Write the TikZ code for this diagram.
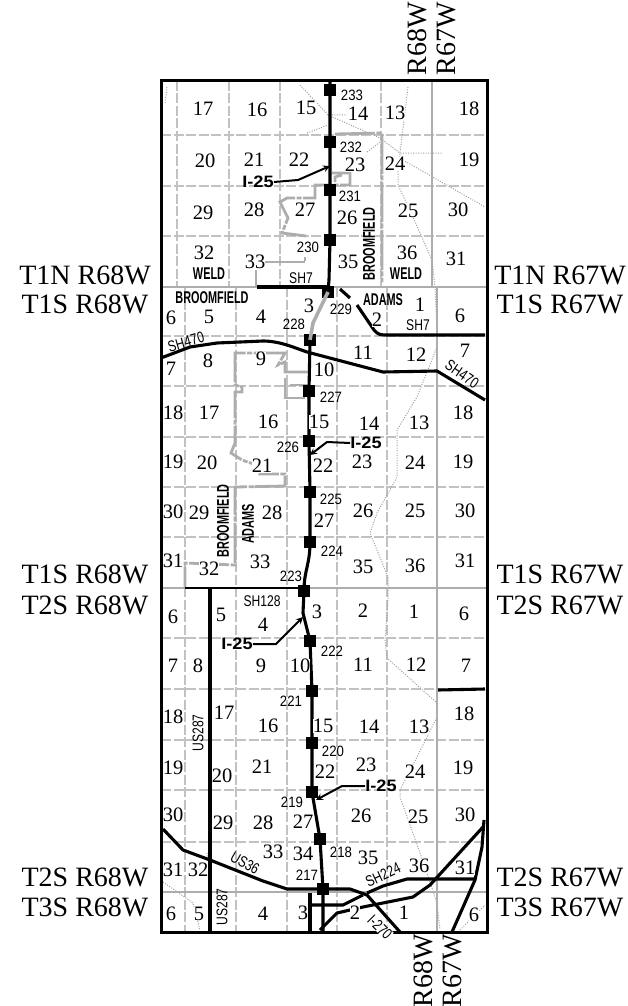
\documentclass[tikz,border=0pt]{standalone}
\usepackage{fontspec}
\setmainfont{Liberation Serif}
\setsansfont{Liberation Sans}
\usetikzlibrary{arrows}
\definecolor{mapgray}{gray}{0.68}
\tikzstyle{secnum} = [font=\fontsize{20.5}{20}\selectfont, fill=white, inner sep=0pt]
\tikzstyle{township} = [font=\fontsize{28}{28}\selectfont, inner sep=0pt]
\tikzstyle{exitnum} = [font=\sffamily\fontsize{15}{15}\selectfont, xscale=0.88, transform shape, inner sep=0pt]
\tikzstyle{roadname} = [font=\sffamily\fontsize{15.5}{15}\selectfont, xscale=0.78, transform shape, inner sep=0pt]
\tikzstyle{countyname} = [font=\sffamily\bfseries\fontsize{17}{17}\selectfont, xscale=0.64, transform shape, inner sep=0pt]
\tikzstyle{routename} = [font=\sffamily\bfseries\fontsize{16.5}{16}\selectfont, xscale=1.1, transform shape, inner sep=0pt]
\tikzstyle{marker} = [rectangle, fill=black, minimum size=11.5pt, inner sep=0pt]
\tikzstyle{section} = [line width=1.2pt, draw=black!24, dash pattern=on 10pt off 2.5pt]
\tikzstyle{townline} = [line width=2.4pt, draw=mapgray]
\tikzstyle{limit} = [line width=2.8pt, draw=mapgray, dash pattern=on 40pt off 1.5pt on 5pt off 1.5pt]
\tikzstyle{rail} = [line width=1pt, draw=black!38, dash pattern=on 1pt off 1.5pt]
\tikzstyle{road} = [line width=3.1pt, draw=black, line join=round]
\tikzstyle{leader} = [line width=2pt, ->, >=stealth, draw=black]
\begin{document}
\begin{tikzpicture}[x=1pt,y=-1pt]
\useasboundingbox (0,0) rectangle (628,1006);

% section lines
\draw [section] (161,135) -- (487,135);
\draw [section] (161,186) -- (487,186);
\draw [section] (161,236) -- (487,236);
\draw [section] (161,336) -- (487,336);
\draw [section] (161,386) -- (487,386);
\draw [section] (161,437) -- (487,437);
\draw [section] (161,487) -- (487,487);
\draw [section] (161,537) -- (487,537);
\draw [section] (161,638) -- (487,638);
\draw [section] (161,689) -- (487,689);
\draw [section] (161,740) -- (487,740);
\draw [section] (161,790) -- (487,790);
\draw [section] (161,842) -- (487,842);
\draw [section] (177,81) -- (177,287);
\draw [section] (229,81) -- (229,287);
\draw [section] (280,81) -- (280,287);
\draw [section] (381,81) -- (381,287);
\draw [section] (185,287) -- (185,932);
\draw [section] (236,287) -- (236,932);
\draw [section] (287,287) -- (287,932);
\draw [section] (337,287) -- (337,932);
\draw [section] (387,287) -- (387,932);

% railroads
\draw [rail] (300,85) -- (328,115) -- (347,115);
\draw [rail] (307,133) -- (328,125);
\draw [rail] (328,115) -- (380,138) -- (400,153) -- (443,153);
\draw [rail] (367,152) -- (380,142);
\draw [rail] (408,87) -- (400,153) -- (398,173) -- (398,185) -- (413,217) -- (432,260) -- (435,287) -- (437,330);
\draw [rail] (403,160) -- (485,207);
\draw [rail] (167,87) -- (165,103);
\draw [rail] (437,347) -- (417,397) -- (397,430) -- (397,477) -- (377,513) -- (370,533) -- (388,577) -- (388,600) -- (385,640) -- (387,658) -- (437,703) -- (437,717) -- (417,757) -- (400,790) -- (400,797) -- (420,853) -- (437,903) -- (440,930);
\draw [rail] (163,882) -- (193,903) -- (200,930);
\draw [rail] (207,853) -- (210,868);
\draw [rail] (460,930) -- (485,905);

% town boundaries
\draw [townline] (432,81) -- (432,287);
\draw [townline] (437,287) -- (437,932);
\draw [townline] (161,287) -- (487,287);
\draw [townline] (161,588) -- (487,588);
\draw [townline] (161,892) -- (487,892);
\draw [limit] (335,134) -- (382,133) -- (382,282);
\draw [limit] (330,185) -- (315,185) -- (315,198) -- (287,198) -- (280,202) -- (288,218) -- (282,233) -- (306,236);
\draw [limit] (332,173) -- (350,173) -- (350,185) -- (335,185) -- (335,177) -- (342,175);
\draw [limit] (265,262) -- (305,262) -- (305,257);
\draw [limit] (256,270) -- (256,287);
\draw [limit] (310,372) -- (285,372) -- (285,362) -- (278,365) -- (285,353) -- (235,353) -- (235,385) -- (242,387) -- (242,392) -- (235,392) -- (235,443) -- (231,453) -- (242,460) -- (262,467) -- (260,474) -- (285,474) -- (285,486) -- (235,487) -- (235,565) -- (185,563) -- (185,588);
\draw [limit] (285,378) -- (285,398) -- (309,398);
\draw [limit] (290,385) -- (309,385);

% markers
\node (m233) [marker] at (330,90) {};
\node (m232) [marker] at (330,142) {};
\node (m231) [marker] at (330,190) {};
\node (m230) [marker] at (330,240) {};
\node (m229) [marker] at (328,292) {};
\node (m228) [marker] at (310,340) {};
\node (m227) [marker] at (309,391) {};
\node (m226) [marker] at (309,441) {};
\node (m225) [marker] at (310,492) {};
\node (m224) [marker] at (310,542) {};
\node (m223) [marker] at (304,591) {};
\node (m222) [marker] at (310,641) {};
\node (m221) [marker] at (312,691) {};
\node (m220) [marker] at (312,743) {};
\node (m219) [marker] at (312,792) {};
\node (m218) [marker] at (320,839) {};
\node (m217) [marker] at (323,889) {};

% I-25 and other roads
\coordinate (top25) at (330,81);
\coordinate (end25) at (323,932);
\draw [road] (top25) -- (m233.center) -- (m232.center) -- (m231.center) -- (m230.center) -- (329,280) -- (m229.center);
\draw [line width=3.6pt, draw=mapgray] (m229.center) -- (313,323) -- (m228.center);
\draw [road] (m228.center) -- (m227.center) -- (m226.center) -- (m225.center) -- (m224.center) .. controls (310,565) and (304,570) .. (m223.center) -- (303,613) -- (m222.center) -- (m221.center) -- (m220.center) -- (m219.center) -- (m218.center) -- (m217.center) -- (end25);
\draw [road] (161,358) -- (190,347) -- (217,343) -- (263,341) .. controls (280,341) and (295,348) .. (307,352) -- (383,372) -- (437,371) -- (485,400);
\draw [road] (257,287) -- (327,287);
\draw [road] (340,289) -- (350,298);
\draw [road] (357,305) -- (372,327) .. controls (375,332) and (378,335) .. (384,335) -- (485,335);
\draw [line width=1.6pt, draw=black] (185,588) -- (304,588);
\draw [road] (210,588) -- (210,932);
\draw [road] (438,690) -- (485,689);
\draw [road] (163,829) -- (183,850) -- (210,860) -- (263,881) -- (287,889) -- (350,889) -- (367,895) -- (400,932);
\draw [road] (367,893) -- (383,886) -- (407,879) -- (475,879);
\draw [road] (310,893) -- (310,932);
\draw [road] (310,905) -- (343,905) -- (363,895);
\draw [road] (320,930) -- (337,913) -- (363,907) -- (413,897) -- (430,885) -- (483,827);
\draw [road] (452,932) -- (475,880) -- (482,847) -- (484,820);

% frame
\draw [line width=3pt, draw=black] (161,81) rectangle (487,932);

% sections T1N
\node (a17) [secnum] at (203,109) {17};
\node (a16) [secnum] at (257,110) {16};
\node (a15) [secnum] at (306,108) {15};
\node (a14) [secnum] at (358,114) {14};
\node (a13) [secnum] at (395,113) {13};
\node (a20) [secnum] at (205,161) {20};
\node (a21) [secnum] at (254,160) {21};
\node (a22) [secnum] at (299,160) {22};
\node (a23) [secnum] at (355,165) {23};
\node (a24) [secnum] at (395,164) {24};
\node (a29) [secnum] at (203,213) {29};
\node (a28) [secnum] at (254,210) {28};
\node (a27) [secnum] at (305,210) {27};
\node (a26) [secnum] at (347,218) {26};
\node (a25) [secnum] at (408,211) {25};
\node (a32) [secnum] at (204,253) {32};
\node (a33) [secnum] at (255,262) {33};
\node (a35) [secnum] at (348,262) {35};
\node (a36) [secnum] at (407,253) {36};
\node (ae18) [secnum] at (469,109) {18};
\node (ae19) [secnum] at (469,160) {19};
\node (ae30) [secnum] at (458,210) {30};
\node (ae31) [secnum] at (456,259) {31};

% sections T1S
\node (b6) [secnum] at (171,318) {6};
\node (b5) [secnum] at (209,317) {5};
\node (b4) [secnum] at (261,317) {4};
\node (b3) [secnum] at (309,306) {3};
\node (b2) [secnum] at (377,320) {2};
\node (b1) [secnum] at (420,305) {1};
\node (b7) [secnum] at (171,369) {7};
\node (b8) [secnum] at (208,361) {8};
\node (b9) [secnum] at (261,359) {9};
\node (b10) [secnum] at (324,370) {10};
\node (b11) [secnum] at (363,353) {11};
\node (b12) [secnum] at (416,355) {12};
\node (b18) [secnum] at (173,413) {18};
\node (b17) [secnum] at (209,413) {17};
\node (b16) [secnum] at (268,422) {16};
\node (b15) [secnum] at (319,422) {15};
\node (b14) [secnum] at (369,424) {14};
\node (b13) [secnum] at (419,423) {13};
\node (b19) [secnum] at (173,462) {19};
\node (b20) [secnum] at (207,463) {20};
\node (b21) [secnum] at (262,466) {21};
\node (b22) [secnum] at (323,466) {22};
\node (b23) [secnum] at (362,462) {23};
\node (b24) [secnum] at (415,463) {24};
\node (b30) [secnum] at (173,512) {30};
\node (b29) [secnum] at (199,513) {29};
\node (b28) [secnum] at (272,513) {28};
\node (b27) [secnum] at (324,521) {27};
\node (b26) [secnum] at (363,511) {26};
\node (b25) [secnum] at (415,511) {25};
\node (b31) [secnum] at (173,561) {31};
\node (b32) [secnum] at (209,569) {32};
\node (b33) [secnum] at (260,562) {33};
\node (b35) [secnum] at (363,567) {35};
\node (b36) [secnum] at (415,566) {36};
\node (be6) [secnum] at (460,316) {6};
\node (be7) [secnum] at (465,351) {7};
\node (be18) [secnum] at (463,413) {18};
\node (be19) [secnum] at (463,462) {19};
\node (be30) [secnum] at (465,511) {30};
\node (be31) [secnum] at (465,561) {31};

% sections T2S
\node (c6) [secnum] at (173,617) {6};
\node (c5) [secnum] at (221,615) {5};
\node (c4) [secnum] at (263,625) {4};
\node (c3) [secnum] at (317,612) {3};
\node (c2) [secnum] at (363,611) {2};
\node (c1) [secnum] at (414,612) {1};
\node (c7) [secnum] at (173,666) {7};
\node (c8) [secnum] at (198,666) {8};
\node (c9) [secnum] at (261,666) {9};
\node (c10) [secnum] at (300,666) {10};
\node (c11) [secnum] at (363,665) {11};
\node (c12) [secnum] at (416,665) {12};
\node (c18) [secnum] at (173,717) {18};
\node (c17) [secnum] at (224,713) {17};
\node (c16) [secnum] at (268,726) {16};
\node (c15) [secnum] at (323,726) {15};
\node (c14) [secnum] at (369,727) {14};
\node (c13) [secnum] at (419,727) {13};
\node (c19) [secnum] at (173,768) {19};
\node (c20) [secnum] at (222,776) {20};
\node (c21) [secnum] at (262,767) {21};
\node (c22) [secnum] at (325,772) {22};
\node (c23) [secnum] at (366,765) {23};
\node (c24) [secnum] at (415,772) {24};
\node (c30) [secnum] at (173,815) {30};
\node (c29) [secnum] at (223,823) {29};
\node (c28) [secnum] at (263,823) {28};
\node (c27) [secnum] at (303,822) {27};
\node (c26) [secnum] at (361,816) {26};
\node (c25) [secnum] at (418,817) {25};
\node (c31) [secnum] at (173,870) {31};
\node (c32) [secnum] at (198,870) {32};
\node (c33) [secnum] at (273,852) {33};
\node (c34) [secnum] at (303,854) {34};
\node (c35) [secnum] at (368,858) {35};
\node (c36) [secnum] at (419,866) {36};
\node (ce6) [secnum] at (464,614) {6};
\node (ce7) [secnum] at (466,666) {7};
\node (ce18) [secnum] at (464,714) {18};
\node (ce19) [secnum] at (463,768) {19};
\node (ce30) [secnum] at (465,815) {30};
\node (ce31) [secnum] at (465,868) {31};

% sections T3S
\node (d6) [secnum] at (171,914) {6};
\node (d5) [secnum] at (199,914) {5};
\node (d4) [secnum] at (263,914) {4};
\node (d3) [secnum] at (303,913) {3};
\node (d2) [secnum] at (355,913) {2};
\node (d1) [secnum] at (404,913) {1};
\node (de6) [secnum] at (474,915) {6};

% exit numbers
\node (x233) [exitnum] at (352,95) {233};
\node (x232) [exitnum] at (351,147) {232};
\node (x231) [exitnum] at (350,196) {231};
\node (x230) [exitnum] at (308,247) {230};
\node (x229) [exitnum] at (341,309) {229};
\node (x228) [exitnum] at (294,324) {228};
\node (x227) [exitnum] at (331,397) {227};
\node (x226) [exitnum] at (288,447) {226};
\node (x225) [exitnum] at (331,499) {225};
\node (x224) [exitnum] at (332,551) {224};
\node (x223) [exitnum] at (291,576) {223};
\node (x222) [exitnum] at (332,651) {222};
\node (x221) [exitnum] at (291,701) {221};
\node (x220) [exitnum] at (333,751) {220};
\node (x219) [exitnum] at (292,802) {219};
\node (x218) [exitnum] at (341,852) {218};
\node (x217) [exitnum] at (307,875) {217};

% road and county names
\node (sh7a) [roadname] at (301,278) {SH7};
\node (sh7b) [roadname] at (418,325) {SH7};
\node (sh470a) [rotate=16, roadname] at (186,342) {SH470};
\node (sh470b) [rotate=-35, roadname] at (462,374) {SH470};
\node (sh128) [roadname] at (262,601) {SH128};
\node (us287a) [rotate=90, roadname] at (198,733) {US287};
\node (us287b) [rotate=90, roadname] at (222,907) {US287};
\node (us36) [rotate=-30, roadname] at (245,863) {US36};
\node (sh224) [rotate=25, roadname] at (383,875) {SH224};
\node (i270) [rotate=-45, roadname, fill=white] at (380,927) {I-270};
\node (welda) [countyname] at (209,274) {WELD};
\node (weldb) [countyname] at (406,274) {WELD};
\node (broomfielda) [countyname] at (212,298) {BROOMFIELD};
\node (broomfieldb) [rotate=90, countyname] at (369,244) {BROOMFIELD};
\node (broomfieldc) [rotate=90, countyname] at (223,521) {BROOMFIELD};
\node (adamsa) [countyname] at (383,300) {ADAMS};
\node (adamsb) [rotate=90, countyname] at (248,524) {ADAMS};

% I-25 leaders
\node (i25a) [routename] at (258,182) {I-25};
\coordinate (benda) at (298,180);
\coordinate (tipa) at (330,166);
\draw [leader] (i25a.east) -- (benda) -- (tipa);
\node (i25b) [routename] at (366,443) {I-25};
\coordinate (bendb) at (327,442);
\coordinate (tipb) at (310,455);
\draw [leader] (i25b.west) -- (bendb) -- (tipb);
\node (i25c) [routename] at (237,644) {I-25};
\coordinate (bendc) at (276,644);
\coordinate (tipc) at (303,617);
\draw [leader] (i25c.east) -- (bendc) -- (tipc);
\node (i25d) [routename] at (381,786) {I-25};
\coordinate (bendd) at (342,786);
\coordinate (tipd) at (316,800);
\draw [leader] (i25d.west) -- (bendd) -- (tipd);

% township labels
\node (n1w) [township] at (85,275) {T1N R68W};
\node (s1w) [township] at (85,304) {T1S R68W};
\node (n1e) [township] at (560,275) {T1N R67W};
\node (s1e) [township] at (560,304) {T1S R67W};
\node (s1wb) [township] at (85,574) {T1S R68W};
\node (s2w) [township] at (85,605) {T2S R68W};
\node (s1eb) [township] at (560,574) {T1S R67W};
\node (s2e) [township] at (560,605) {T2S R67W};
\node (s2wb) [township] at (85,877) {T2S R68W};
\node (s3w) [township] at (85,907) {T3S R68W};
\node (s2eb) [township] at (560,877) {T2S R67W};
\node (s3e) [township] at (560,907) {T3S R67W};
\node (r68t) [township, rotate=90] at (417,39) {R68W};
\node (r67t) [township, rotate=90] at (446,39) {R67W};
\node (r68b) [township, rotate=90] at (423,971) {R68W};
\node (r67b) [township, rotate=90] at (452,971) {R67W};

\end{tikzpicture}
\end{document}
